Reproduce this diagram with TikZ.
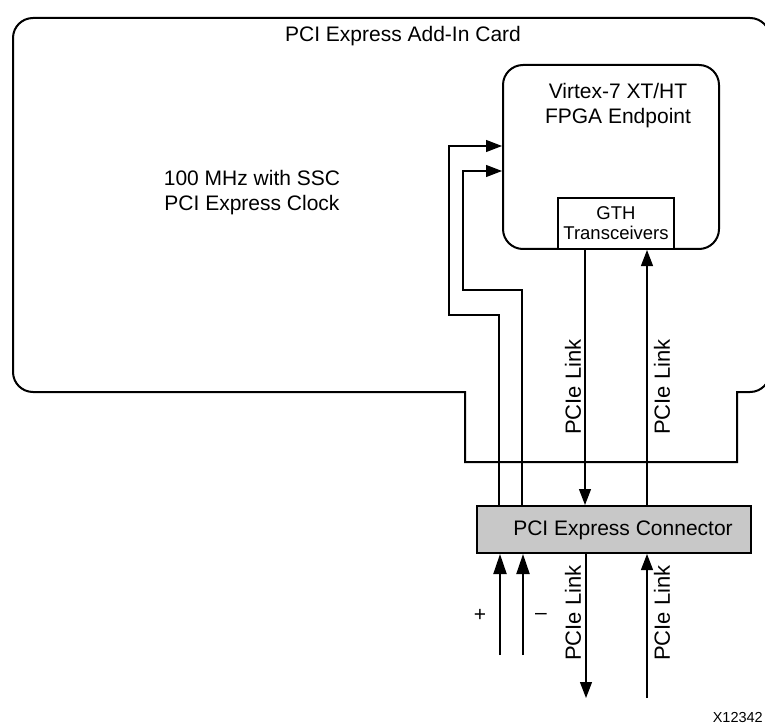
\documentclass[tikz,border=0pt]{standalone}
\usepackage{fontspec}
\setmainfont{Liberation Sans}
\usetikzlibrary{arrows.meta}
\definecolor{conngray}{RGB}{200,200,200}
\begin{document}
\begin{tikzpicture}[x=1pt,y=1pt,
  outline/.style={line width=2pt},
  wire/.style={line width=1.1pt},
  arr/.style={wire,-{Triangle[length=16pt,width=12pt]}},
  bigarr/.style={line width=2pt,-{Triangle[length=20pt,width=13pt]}},
  lbl/.style={font=\fontsize{21}{25}\selectfont, align=center, inner sep=0pt},
  linklbl/.style={font=\fontsize{22}{26}\selectfont, rotate=90, inner sep=0pt}]
\clip (0,0) rectangle (765,-727);
% card outline
\draw[outline] (465,-392) -- (33,-392) arc[start angle=270, end angle=180, radius=20pt]
  -- (13,-38) arc[start angle=180, end angle=90, radius=20pt]
  -- (750,-18) arc[start angle=90, end angle=0, radius=20pt]
  -- (770,-372) arc[start angle=0, end angle=-90, radius=20pt]
  -- (737,-392) -- (737,-462) -- (465,-462) -- cycle;
\node[lbl] (cardtxt) at (403,-36) {PCI Express Add-In Card};
\node[lbl] (clk) at (252,-193) {100 MHz with SSC\\PCI Express Clock};
% FPGA
\node[outline, draw, rounded corners=20pt, minimum width=216pt, minimum height=184pt, inner sep=0pt] (fpga) at (611,-157) {};
\node[lbl] (fpgatxt) at (618,-106) {Virtex-7 XT/HT\\FPGA Endpoint};
\node[outline, draw, fill=white, minimum width=116pt, minimum height=51pt, inner sep=0pt,
  font=\fontsize{18.5}{20}\selectfont, align=center] (gth) at (616,-223.5) {GTH\\Transceivers};
% connector
\node[outline, draw, fill=conngray, minimum width=274pt, minimum height=47pt, inner sep=0pt] (conn) at (614,-529.5) {};
\node[lbl] (conntxt) at (623,-530) {PCI Express Connector};
% clock paths
\coordinate (pB) at (499,-315);
\coordinate (pA) at (449,-315);
\coordinate (pAtop) at (449,-146);
\draw[arr] (conn.north -| pB) -- (pB) -- (pA) -- (pAtop) -- (pAtop -| fpga.west);
\coordinate (mB) at (522,-290);
\coordinate (mA) at (463,-290);
\coordinate (mAtop) at (463,-171);
\draw[arr] (conn.north -| mB) -- (mB) -- (mA) -- (mAtop) -- (mAtop -| fpga.west);
% PCIe links above
\coordinate (dl) at (585,0);
\coordinate (ul) at (647,0);
\draw[arr] (gth.south -| dl) -- (conn.north -| dl);
\draw[arr] (conn.north -| ul) -- (gth.south -| ul);
\node[linklbl] (l1) at (573,-387) {PCIe Link};
\node[linklbl] (l2) at (662,-387) {PCIe Link};
% below connector
\coordinate (bp) at (500,-655);
\coordinate (bm) at (523,-655);
\coordinate (bd) at (586,-698);
\coordinate (bu) at (647,-698);
\draw[bigarr] (bp) -- (conn.south -| bp);
\draw[bigarr] (bm) -- (conn.south -| bm);
\draw[arr] (conn.south -| bd) -- (bd);
\draw[arr] (bu) -- (conn.south -| bu);
\node[linklbl] (l3) at (573,-613) {PCIe Link};
\node[linklbl] (l4) at (662,-613) {PCIe Link};
\node[lbl] (plus) at (480,-615) {+};
\node[lbl] (minus) at (541,-616) {–};
\node[font=\fontsize{14.5}{16}\selectfont, anchor=east, inner sep=0pt] (fig) at (763,-718) {X12342};
\end{tikzpicture}
\end{document}
